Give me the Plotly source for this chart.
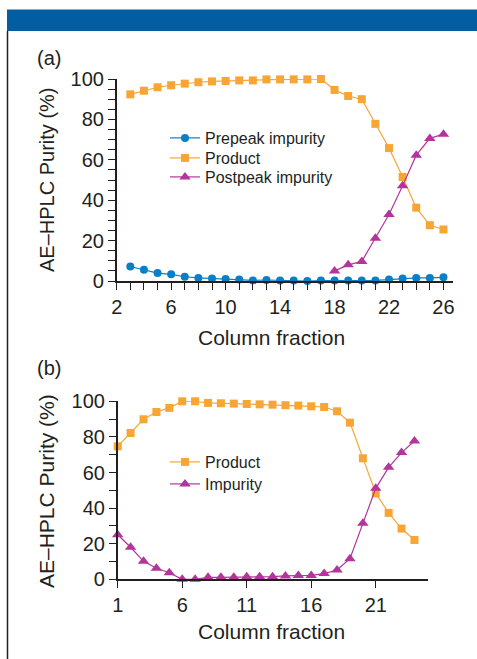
import plotly.graph_objects as go

W, H = 477, 659

# ---------- data ----------
frac_a = list(range(3, 27))
prepeak = [7.2, 5.6, 3.9, 3.3, 2.1, 1.5, 1.2, 1.0, 0.7, 0.3, 0.5, 0.3, 0.2, 0.0,
           0.2, 0.2, 0.2, 0.2, 0.3, 0.7, 1.2, 1.5, 1.5, 1.8]
product_a = [92.4, 94.2, 95.9, 96.9, 97.7, 98.4, 98.8, 99.0, 99.3, 99.3, 99.8, 99.8,
             99.8, 99.8, 100.0, 94.6, 91.6, 90.0, 77.8, 65.8, 51.5, 36.3, 27.6, 25.5]
frac_post = list(range(18, 27))
postpeak = [5.0, 8.0, 9.7, 21.2, 32.9, 47.2, 62.3, 70.6, 72.7]

frac_b = list(range(1, 25))
product_b = [74.7, 82.2, 89.9, 94.0, 96.3, 100.0, 100.0, 99.1, 98.9, 98.7, 98.5, 98.3,
             98.1, 97.8, 97.6, 97.2, 96.8, 94.4, 88.0, 68.0, 48.3, 37.3, 28.5, 22.1]
impurity_b = [25.0, 18.0, 10.1, 6.2, 3.7, 0.0, 0.0, 1.1, 1.1, 1.1, 1.5, 1.5,
              1.5, 1.9, 2.1, 2.2, 3.2, 5.2, 11.6, 31.5, 51.1, 62.9, 71.2, 77.7]

ticks_a_y = [0, 20, 40, 60, 80, 100]
ticks_a_x = [2, 6, 10, 14, 18, 22, 26]
ticks_b_x = [1, 6, 11, 16, 21]

ORANGE = "#F7A535"
BLUE = "#0A7FC6"
PURPLE = "#B3359B"
TXT = "#231F20"
FONT = "Liberation Sans, Arial, Helvetica, sans-serif"

def px(x):
    return x / W

def py(y):
    return 1 - y / H

fig = go.Figure()

def add(x, y, name, color, symbol, size, xa, ya, legend):
    fig.add_trace(go.Scatter(
        x=x, y=y, name=name, mode="lines+markers", showlegend=True,
        line=dict(color=color, width=1.2),
        marker=dict(color=color, symbol=symbol, size=size),
        xaxis=xa, yaxis=ya, legend=legend, cliponaxis=False))

add(frac_a, prepeak, "Prepeak impurity", BLUE, "circle", 8, "x", "y", "legend")
add(frac_a, product_a, "Product", ORANGE, "square", 8, "x", "y", "legend2")
add(frac_post, postpeak, "Postpeak impurity", PURPLE, "triangle-up", 10, "x", "y", "legend3")
add(frac_b, product_b, "Product", ORANGE, "square", 8, "x2", "y2", "legend4")
add(frac_b, impurity_b, "Impurity", PURPLE, "triangle-up", 10, "x2", "y2", "legend5")

axis_common = dict(showline=True, linecolor=TXT, linewidth=1.5, ticks="outside",
                   ticklen=7, tickwidth=1.3, tickcolor=TXT, showgrid=False,
                   zeroline=False, automargin=False,
                   tickfont=dict(family=FONT, size=20, color=TXT))

def leg(xpix, ypix):
    return dict(x=px(xpix), y=py(ypix), xanchor="left", yanchor="middle",
                bgcolor="rgba(0,0,0,0)", borderwidth=0, visible=True,
                font=dict(family=FONT, size=16, color=TXT), itemsizing="trace")

fig.update_layout(
    width=W, height=H, margin=dict(l=0, r=0, t=0, b=0, pad=0, autoexpand=False),
    showlegend=True,
    paper_bgcolor="white", plot_bgcolor="white",
    font=dict(family=FONT, color=TXT),
    xaxis=dict(domain=[px(116.7), px(453)], range=[2, 26.7], anchor="y",
               tickvals=ticks_a_x,
               minor=dict(dtick=1, tick0=2, ticks="outside", ticklen=7,
                          tickcolor=TXT, tickwidth=1.3),
               **axis_common),
    yaxis=dict(domain=[py(281), py(79)], range=[0, 100], anchor="x",
               tickvals=ticks_a_y,
               minor=dict(dtick=5, tick0=0, ticks="outside", ticklen=7,
                          tickcolor=TXT, tickwidth=1.3),
               **axis_common),
    xaxis2=dict(domain=[px(117.7), px(428)], range=[1, 25.05], anchor="y2",
                tickvals=ticks_b_x, **axis_common),
    yaxis2=dict(domain=[py(579.3), py(401.3)], range=[0, 100], anchor="x2",
                tickvals=ticks_a_y,
                minor=dict(dtick=10, tick0=0, ticks="outside", ticklen=7,
                           tickcolor=TXT, tickwidth=1.3),
                **axis_common),
    legend=leg(165, 138),
    legend2=leg(165, 158),
    legend3=leg(165, 177),
    legend4=leg(165, 462),
    legend5=leg(165, 484),
    shapes=[
        dict(type="rect", xref="paper", yref="paper", x0=px(7), x1=1,
             y0=py(31), y1=py(9.5), fillcolor="#035DA3", line=dict(width=0), layer="below"),
        dict(type="line", xref="paper", yref="paper", x0=px(7.5), x1=px(7.5),
             y0=py(31), y1=0, line=dict(color=TXT, width=1.5)),
    ],
    annotations=[
        dict(text="(a)", x=px(35), y=py(58), xref="paper", yref="paper",
             xanchor="left", yanchor="middle", showarrow=False,
             font=dict(family=FONT, size=20, color=TXT)),
        dict(text="(b)", x=px(35), y=py(368), xref="paper", yref="paper",
             xanchor="left", yanchor="middle", showarrow=False,
             font=dict(family=FONT, size=20, color=TXT)),
        dict(text="AE\u2013HPLC Purity (%)", x=px(47), y=py(180), xref="paper", yref="paper",
             xanchor="center", yanchor="middle", showarrow=False, textangle=-90,
             font=dict(family=FONT, size=20, color=TXT)),
        dict(text="AE\u2013HPLC Purity (%)", x=px(47), y=py(491), xref="paper", yref="paper",
             xanchor="center", yanchor="middle", showarrow=False, textangle=-90,
             font=dict(family=FONT, size=21, color=TXT)),
        dict(text="Column fraction", x=px(271), y=py(337), xref="paper", yref="paper",
             xanchor="center", yanchor="middle", showarrow=False,
             font=dict(family=FONT, size=21, color=TXT)),
        dict(text="Column fraction", x=px(271), y=py(631), xref="paper", yref="paper",
             xanchor="center", yanchor="middle", showarrow=False,
             font=dict(family=FONT, size=21, color=TXT)),
    ],
)

fig.write_html("out.html", config={"displayModeBar": False},
               post_script="document.body.style.margin='0';")
